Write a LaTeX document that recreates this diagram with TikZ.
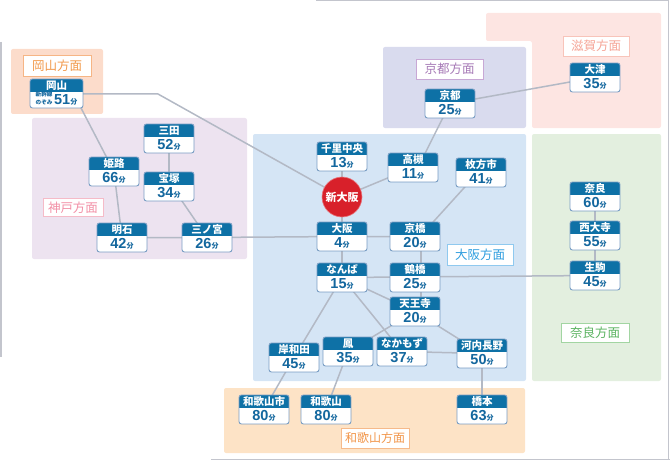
\documentclass[tikz,border=0pt]{standalone}
\usepackage{fontspec}
\newfontfamily\jp{Noto Sans CJK JP}
\newfontfamily\num{Liberation Sans}
\usetikzlibrary{calc}
\pgfdeclarelayer{regions}
\pgfdeclarelayer{lines}
\pgfsetlayers{regions,lines,main}
\definecolor{hdr}{HTML}{0E71A6}
\definecolor{numcol}{HTML}{13679E}
\definecolor{bord}{HTML}{7A9EC4}
\definecolor{conncol}{HTML}{B3B9C5}
\definecolor{framecol}{HTML}{C3C5CD}
\definecolor{shinred}{HTML}{D8202A}
\definecolor{rOka}{HTML}{FCDCCB}
\definecolor{rKobe}{HTML}{EDE3F0}
\definecolor{rKyoto}{HTML}{D9DBEE}
\definecolor{rShiga}{HTML}{FDE5E2}
\definecolor{rOsaka}{HTML}{D5E5F5}
\definecolor{rNara}{HTML}{E3EFDF}
\definecolor{rWaka}{HTML}{FDE3C6}
\definecolor{tOka}{HTML}{F29A4C}
\definecolor{bOka}{HTML}{F6B585}
\definecolor{tKobe}{HTML}{F28FA6}
\definecolor{bKobe}{HTML}{F5BBC8}
\definecolor{tKyoto}{HTML}{A679B6}
\definecolor{bKyoto}{HTML}{C8A8D5}
\definecolor{tShiga}{HTML}{F6A698}
\definecolor{bShiga}{HTML}{F8C4BA}
\definecolor{tOsaka}{HTML}{2F9EDF}
\definecolor{bOsaka}{HTML}{8FC9EF}
\definecolor{tNara}{HTML}{5AB360}
\definecolor{bNara}{HTML}{A2D5A2}
\definecolor{tWaka}{HTML}{F2964A}
\definecolor{bWaka}{HTML}{F6BA8A}
\tikzset{
  stbox/.style={rectangle, minimum height=29, inner sep=0pt, outer sep=0pt},
  conn/.style={draw=conncol, line width=1.5},
  framestyle/.style={draw=framecol, line width=1.2},
  hdrtext/.style={text=white, inner sep=0pt, font=\jp\bfseries\fontsize{10.5}{10.5}\selectfont},
  bodytext/.style={text=numcol, inner sep=0pt},
  areabox/.style={draw=#1, fill=white, line width=0.8, inner sep=0pt, font=\jp\fontsize{12.5}{13}\selectfont},
}
\newcommand\mins[1]{{\num\bfseries\fontsize{14.5}{14.5}\selectfont #1}{\jp\bfseries\fontsize{7}{7}\selectfont 分}}
% #1 width, #2 name, #3 x, #4 y (top left), #5 title, #6 body
\newcommand\stn[6][50]{%
  \node[stbox, minimum width=#1] (#2) at (#3+#1/2,#4+14.5) {};
  \begin{scope}
    \clip[rounded corners=2.5] (#2.north west) rectangle (#2.south east);
    \fill[white] (#2.north west) rectangle (#2.south east);
    \fill[hdr] (#2.north west) rectangle ($(#2.north east)+(0,13)$);
  \end{scope}
  \draw[bord, line width=0.9, rounded corners=2.5] (#2.north west) rectangle (#2.south east);
  \node[hdrtext] at ($(#2.north)+(0,6.5)$) {#5};
  \node[bodytext, anchor=base] at ($(#2.south)+(0,-3.2)$) {#6};
}
\begin{document}
\begin{tikzpicture}[x=1pt,y=-1pt]
\useasboundingbox (0,0) rectangle (670,460);
% frame lines
\draw[framestyle] (316,0.6) -- (668.6,0.6) -- (668.6,460);
\draw[framestyle] (1,42) -- (1,357);
\draw[framestyle] (211,459.2) -- (670,459.2);
% regions
\begin{pgfonlayer}{regions}
\fill[rOka, rounded corners=2] (11,49) rectangle (103,114);
\fill[rKobe, rounded corners=2] (32,118) rectangle (247,259);
\fill[rKyoto, rounded corners=2] (383,47) rectangle (526,128);
\fill[rShiga, rounded corners=2] (486,13) -- (661,13) -- (661,128) -- (532,128) -- (532,41) -- (486,41) -- cycle;
\fill[rOsaka, rounded corners=2] (253,134) rectangle (526,381);
\fill[rNara, rounded corners=2] (532,134) rectangle (661,381);
\fill[rWaka, rounded corners=2] (224,388) rectangle (525,453);
\end{pgfonlayer}
% area labels
\node[areabox=bOka, text=tOka, minimum width=68, minimum height=21] (lOka) at (57,65.5) {岡山方面};
\node[areabox=bKobe, text=tKobe, minimum width=60, minimum height=18] (lKobe) at (73,207.5) {神戸方面};
\node[areabox=bKyoto, text=tKyoto, minimum width=67, minimum height=20] (lKyoto) at (449.5,69) {京都方面};
\node[areabox=bShiga, text=tShiga, minimum width=66, minimum height=20] (lShiga) at (596,46) {滋賀方面};
\node[areabox=bOsaka, text=tOsaka, minimum width=66, minimum height=21] (lOsaka) at (480,254.5) {大阪方面};
\node[areabox=bNara, text=tNara, minimum width=68, minimum height=19] (lNara) at (595,332.5) {奈良方面};
\node[areabox=bWaka, text=tWaka, minimum width=68, minimum height=20, font=\jp\fontsize{12}{13}\selectfont] (lWaka) at (375,438) {和歌山方面};
% stations
\stn[53]{oka}{30}{79}{岡山}{{\jp\bfseries\fontsize{5.6}{5.8}\selectfont\shortstack{新幹線\\のぞみ}}\,\mins{51}}
\stn{sanda}{144}{124}{三田}{\mins{52}}
\stn{himeji}{89}{157}{姫路}{\mins{66}}
\stn{takara}{144}{172}{宝塚}{\mins{34}}
\stn{akashi}{97}{223}{明石}{\mins{42}}
\stn{sannomiya}{182}{223}{三ノ宮}{\mins{26}}
\stn{senri}{317}{142}{千里中央}{\mins{13}}
\stn{takatsuki}{388}{153}{高槻}{\mins{11}}
\stn{hirakata}{456}{158}{枚方市}{\mins{41}}
\stn{osaka}{317}{222}{大阪}{\mins{4}}
\stn{kyobashi}{390}{222}{京橋}{\mins{20}}
\stn{namba}{317}{263}{なんば}{\mins{15}}
\stn{tsuru}{390}{263}{鶴橋}{\mins{25}}
\stn{tennoji}{390}{297}{天王寺}{\mins{20}}
\stn{otori}{323}{337}{鳳}{\mins{35}}
\stn{nakamozu}{377}{337}{なかもず}{\mins{37}}
\stn{kawachi}{457}{339}{河内長野}{\mins{50}}
\stn{kishi}{269}{343}{岸和田}{\mins{45}}
\stn{wakashi}{239}{395}{和歌山市}{\mins{80}}
\stn{waka}{301}{395}{和歌山}{\mins{80}}
\stn{hashimoto}{457}{395}{橋本}{\mins{63}}
\stn{kyoto}{425}{89}{京都}{\mins{25}}
\stn{otsu}{570}{63}{大津}{\mins{35}}
\stn{nara}{570}{182}{奈良}{\mins{60}}
\stn{saidaiji}{570}{221}{西大寺}{\mins{55}}
\stn{ikoma}{570}{261}{生駒}{\mins{45}}
% Shin-Osaka
\node[circle, fill=shinred, draw=shinred!60!white, line width=0.6, minimum size=40, inner sep=0pt, text=white, font=\jp\bfseries\fontsize{11}{11}\selectfont] (shin) at (342,197) {新大阪};
\coordinate (okabend) at (158,94);
% connectors
\begin{pgfonlayer}{lines}
\draw[conn] (oka.east |- 0,94) -- (okabend) -- (shin.center);
\draw[conn] ($(oka.center)+(17,0)$) -- (himeji.center);
\draw[conn] (himeji.center) -- (akashi.center);
\draw[conn] (sanda.center) -- (takara.center);
\draw[conn] ($(takara.center)+(3,0)$) -- (sannomiya.center);
\draw[conn] (akashi.center) -- (sannomiya.center) -- (osaka.center) -- (kyobashi.center);
\draw[conn] (senri.center) -- (shin.center) -- (osaka.center) -- (namba.center);
\draw[conn] (shin.center) -- (takatsuki.center);
\draw[conn] ($(takatsuki.center)+(5,0)$) -- (kyoto.center);
\draw[conn] (kyoto.center) -- (otsu.center);
\draw[conn] ($(kyobashi.center)+(5,0)$) -- ($(hirakata.center)+(-3,0)$);
\draw[conn] ($(kyobashi.center)+(6,0)$) -- ($(tennoji.center)+(6,0)$);
\draw[conn] (namba.center) -- (ikoma.center);
\draw[conn] (namba.center) -- (tennoji.center);
\draw[conn] (namba.center) -- (nakamozu.center);
\draw[conn] (namba.center) -- (kishi.center);
\draw[conn] (tennoji.center) -- (otori.center);
\draw[conn] (tennoji.center) -- (kawachi.center);
\draw[conn] (nakamozu.center) -- (kawachi.center);
\draw[conn] (kawachi.center) -- (hashimoto.center);
\draw[conn] (kishi.center) -- (wakashi.center);
\draw[conn] (otori.center) -- (waka.center);
\draw[conn] (nara.center) -- (saidaiji.center) -- (ikoma.center);
\end{pgfonlayer}
\end{tikzpicture}
\end{document}
